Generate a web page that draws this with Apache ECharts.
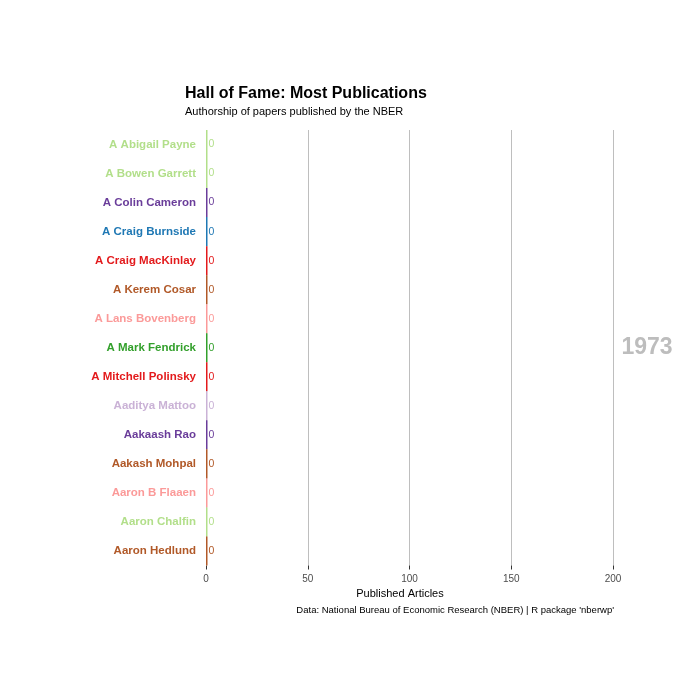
<!DOCTYPE html>
<html>
<head>
<meta charset="utf-8">
<script src="https://cdn.jsdelivr.net/npm/echarts@6/dist/echarts.min.js"></script>
<style>
  html, body { margin: 0; padding: 0; background: #ffffff; }
  #chart { width: 700px; height: 700px; }
</style>
</head>
<body>
<div id="chart"></div>
<script>
// authors shown in this frame, top to bottom
var authors = [
  'A Abigail Payne', 'A Bowen Garrett', 'A Colin Cameron', 'A Craig Burnside',
  'A Craig MacKinlay', 'A Kerem Cosar', 'A Lans Bovenberg', 'A Mark Fendrick',
  'A Mitchell Polinsky', 'Aaditya Mattoo', 'Aakaash Rao', 'Aakash Mohpal',
  'Aaron B Flaaen', 'Aaron Chalfin', 'Aaron Hedlund'
];
// published articles so far (year 1973)
var articles = [0, 0, 0, 0, 0, 0, 0, 0, 0, 0, 0, 0, 0, 0, 0];
// colour per author
var authorColors = [
  '#B2DF8A', '#B2DF8A', '#6A3D9A', '#1F78B4',
  '#E31A1C', '#B15928', '#FB9A99', '#33A02C',
  '#E31A1C', '#CAB2D6', '#6A3D9A', '#B15928',
  '#FB9A99', '#B2DF8A', '#B15928'
];
var year = '1973';

var chart = echarts.init(document.getElementById('chart'));

var font = 'Liberation Sans, Arial, sans-serif';

var option = {
  backgroundColor: '#ffffff',
  animation: false,
  textStyle: { fontFamily: font },
  title: [
    {
      text: 'Hall of Fame: Most Publications',
      subtext: 'Authorship of papers published by the NBER',
      left: 185,
      top: 86,
      itemGap: 4,
      padding: 0,
      textStyle: { fontSize: 16, fontWeight: 'bold', color: '#000000', fontFamily: font },
      subtextStyle: { fontSize: 11, color: '#000000', fontFamily: font }
    },
    {
      text: 'Published Articles',
      left: 400,
      top: 588,
      textAlign: 'center',
      padding: 0,
      textStyle: { fontSize: 11, fontWeight: 'normal', color: '#000000', fontFamily: font }
    },
    {
      text: "Data: National Bureau of Economic Research (NBER) | R package 'nberwp'",
      left: 614,
      top: 605,
      textAlign: 'right',
      padding: 0,
      textStyle: { fontSize: 9.5, fontWeight: 'normal', color: '#000000', fontFamily: font }
    },
    {
      text: year,
      left: 647,
      top: 336,
      textAlign: 'center',
      padding: 0,
      textStyle: { fontSize: 23, fontWeight: 'bold', color: '#BDBDBD', fontFamily: font }
    }
  ],
  grid: {
    left: 206,
    right: 87,
    top: 130,
    bottom: 134.5,
    containLabel: false
  },
  xAxis: {
    type: 'value',
    min: 0,
    max: 200,
    interval: 50,
    axisLine: { show: false },
    axisTick: { show: true, length: 4, lineStyle: { color: '#333333' } },
    axisLabel: { color: '#4D4D4D', fontSize: 10, margin: 9 },
    splitLine: { show: true, lineStyle: { color: '#BEBEBE', width: 1 } }
  },
  yAxis: {
    type: 'category',
    inverse: true,
    data: authors,
    axisLine: { show: false },
    axisTick: { show: false },
    splitLine: { show: false },
    axisLabel: {
      margin: 10,
      fontSize: 11.5,
      fontWeight: 'bold',
      color: function (value, index) { return authorColors[index]; }
    }
  },
  series: [{
    type: 'bar',
    barCategoryGap: 0,
    barMinHeight: 1.5,
    data: articles.map(function (v, i) {
      return { value: v, itemStyle: { color: authorColors[i] } };
    }),
    label: {
      show: true,
      position: 'right',
      distance: 1,
      fontSize: 10.5,
      color: 'inherit',
      formatter: '{c}'
    }
  }]
};

chart.setOption(option);
</script>
</body>
</html>
